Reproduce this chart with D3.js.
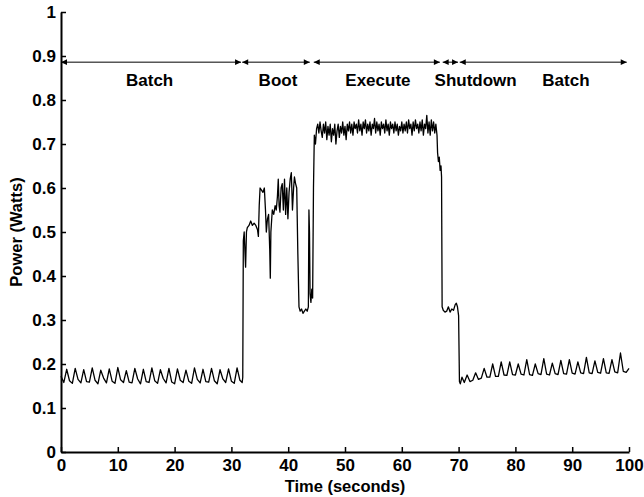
<!DOCTYPE html>
<html>
<head>
<meta charset="utf-8">
<script src="https://cdn.jsdelivr.net/npm/d3@7"></script>
<style>
  body { margin: 0; background: #fff; }
  text { font-family: "Liberation Sans", Arial, sans-serif; font-weight: bold; }
</style>
</head>
<body>
<script>
// power trace, [time (s), power (W)] per phase
var batchStart = [
  [0,0.172],[0.5,0.158],[1,0.188],[1.5,0.162],[2,0.156],[2.5,0.19],[3,0.165],[3.5,0.157],[4,0.187],
  [4.5,0.16],[5,0.159],[5.5,0.191],[6,0.163],[6.5,0.155],[7,0.186],[7.5,0.168],[8,0.157],[8.5,0.189],
  [9,0.161],[9.5,0.156],[10,0.192],[10.5,0.164],[11,0.158],[11.5,0.185],[12,0.159],[12.5,0.157],
  [13,0.19],[13.5,0.166],[14,0.155],[14.5,0.188],[15,0.16],[15.5,0.158],[16,0.191],[16.5,0.162],
  [17,0.156],[17.5,0.187],[18,0.167],[18.5,0.157],[19,0.19],[19.5,0.159],[20,0.155],[20.5,0.189],
  [21,0.163],[21.5,0.158],[22,0.186],[22.5,0.161],[23,0.156],[23.5,0.191],[24,0.165],[24.5,0.157],
  [25,0.188],[25.5,0.16],[26,0.159],[26.5,0.19],[27,0.162],[27.5,0.155],[28,0.187],[28.5,0.166],
  [29,0.158],[29.5,0.189],[30,0.161],[30.5,0.156],[31,0.191],[31.5,0.163],[31.9,0.158]
];
var boot = [
  [32.0,0.17],[32.1,0.48],[32.25,0.5],[32.4,0.45],[32.5,0.42],[32.65,0.5],[32.8,0.51],[33.1,0.515],
  [33.4,0.525],[33.7,0.515],[34.0,0.52],[34.3,0.515],[34.6,0.505],[34.75,0.49],[34.9,0.56],[35.05,0.6],
  [35.3,0.595],[35.55,0.59],[35.8,0.6],[36.0,0.55],[36.15,0.5],[36.35,0.53],[36.55,0.54],[36.75,0.46],
  [36.85,0.395],[36.95,0.5],[37.2,0.55],[37.45,0.54],[37.7,0.56],[37.9,0.55],[38.1,0.58],[38.25,0.62],
  [38.4,0.56],[38.55,0.545],[38.75,0.6],[38.95,0.61],[39.15,0.55],[39.35,0.62],[39.55,0.54],[39.75,0.6],
  [39.95,0.53],[40.15,0.59],[40.35,0.62],[40.55,0.635],[40.75,0.55],[40.95,0.6],[41.1,0.625],[41.3,0.61],
  [41.5,0.6],[41.7,0.45],[41.9,0.33],[42.1,0.32],[42.35,0.325],[42.6,0.315],[42.85,0.32],[43.1,0.325],
  [43.35,0.32],[43.55,0.33],[43.65,0.55],[43.75,0.5],[43.85,0.36],[44.0,0.34],[44.15,0.37],[44.3,0.35],
  [44.45,0.6],[44.6,0.72]
];
var execute = [
  [44.8,0.70],[45.0,0.735],[45.2,0.745],[45.4,0.725],[45.6,0.75],[45.8,0.73],[46.0,0.715],[46.2,0.745],
  [46.4,0.725],[46.6,0.75],[46.8,0.71],[47.0,0.74],[47.2,0.72],[47.4,0.745],[47.6,0.705],[47.8,0.735],
  [48.0,0.72],[48.2,0.745],[48.4,0.70],[48.6,0.73],[48.8,0.745],[49.0,0.715],[49.2,0.74],[49.4,0.725],
  [49.6,0.75],[49.8,0.72],[50.0,0.74],[50.2,0.71],[50.4,0.745],[50.6,0.73],[50.8,0.75],[51.0,0.725],
  [51.2,0.745],[51.4,0.72],[51.6,0.75],[51.8,0.735],[52.0,0.745],[52.2,0.725],[52.4,0.755],[52.6,0.73],
  [52.8,0.745],[53.0,0.72],[53.2,0.75],[53.4,0.735],[53.6,0.755],[53.8,0.725],[54.0,0.745],[54.2,0.73],
  [54.4,0.75],[54.6,0.72],[54.8,0.745],[55.0,0.735],[55.2,0.758],[55.4,0.725],[55.6,0.75],[55.8,0.73],
  [56.0,0.745],[56.2,0.72],[56.4,0.75],[56.6,0.735],[56.8,0.745],[57.0,0.725],[57.2,0.755],[57.4,0.73],
  [57.6,0.745],[57.8,0.72],[58.0,0.75],[58.2,0.735],[58.4,0.745],[58.6,0.725],[58.8,0.75],[59.0,0.73],
  [59.2,0.745],[59.4,0.72],[59.6,0.74],[59.8,0.73],[60.0,0.75],[60.2,0.725],[60.4,0.745],[60.6,0.73],
  [60.8,0.75],[61.0,0.725],[61.2,0.755],[61.4,0.735],[61.6,0.745],[61.8,0.72],[62.0,0.75],[62.2,0.73],
  [62.4,0.755],[62.6,0.735],[62.8,0.745],[63.0,0.725],[63.2,0.75],[63.4,0.73],[63.6,0.755],[63.8,0.72],
  [64.0,0.745],[64.2,0.735],[64.4,0.765],[64.6,0.725],[64.8,0.75],[65.0,0.72],[65.2,0.755],[65.4,0.73],
  [65.6,0.75],[65.8,0.725],[66.0,0.745],[66.2,0.72]
];
var shutdown = [
  [66.3,0.68],[66.45,0.66],[66.6,0.67],[66.75,0.64],[66.9,0.65],[67.0,0.625],[67.1,0.33],[67.3,0.322],
  [67.6,0.318],[67.9,0.32],[68.2,0.33],[68.5,0.318],[68.8,0.325],[69.1,0.322],[69.4,0.335],[69.6,0.338],
  [69.8,0.33],[70.0,0.31],[70.15,0.16]
];
var batchEnd = [
  [70.3,0.155],[70.6,0.17],[71,0.158],[71.5,0.175],[72,0.16],[72.5,0.163],[73,0.18],[73.5,0.165],
  [74,0.168],[74.5,0.19],[75,0.17],[75.5,0.17],[76,0.2],[76.5,0.172],[77,0.172],[77.5,0.205],
  [78,0.175],[78.5,0.174],[79,0.205],[79.5,0.176],[80,0.175],[80.5,0.2],[81,0.177],[81.5,0.175],
  [82,0.21],[82.5,0.176],[83,0.174],[83.5,0.2],[84,0.178],[84.5,0.176],[85,0.212],[85.5,0.177],
  [86,0.175],[86.5,0.202],[87,0.178],[87.5,0.176],[88,0.208],[88.5,0.178],[89,0.177],[89.5,0.21],
  [90,0.179],[90.5,0.177],[91,0.205],[91.5,0.18],[92,0.178],[92.5,0.215],[93,0.18],[93.5,0.178],
  [94,0.207],[94.5,0.181],[95,0.179],[95.5,0.212],[96,0.18],[96.5,0.179],[97,0.21],[97.5,0.182],
  [98,0.18],[98.5,0.225],[99,0.183],[99.5,0.181],[100,0.19]
];

// phase annotations
var phaseNames = ["Batch", "Boot", "Execute", "Shutdown", "Batch"];
var phaseFrom = [0, 31.9, 44.5, 67.2, 70.2];
var phaseTo = [31.7, 43.8, 66.7, 69.9, 99.6];
var phaseLabelAt = [15.6, 38.2, 55.8, 73.0, 88.9];
var phaseArrowY = 0.886;
var phaseLabelY = 0.832;

var xTicks = [0, 10, 20, 30, 40, 50, 60, 70, 80, 90, 100];
var yTicks = [0, 0.1, 0.2, 0.3, 0.4, 0.5, 0.6, 0.7, 0.8, 0.9, 1];

var trace = batchStart.concat(boot, execute, shutdown, batchEnd);

var width = 644, height = 497;
var margin = {top: 12, right: 15, bottom: 45, left: 61};

var svg = d3.select("body").append("svg")
  .attr("width", width)
  .attr("height", height);

var x = d3.scaleLinear().domain([0, 100]).range([margin.left, width - margin.right]);
var y = d3.scaleLinear().domain([0, 1]).range([height - margin.bottom, margin.top]);

// power line
var line = d3.line()
  .x(function(d) { return x(d[0]); })
  .y(function(d) { return y(d[1]); });

svg.append("path")
  .datum(trace)
  .attr("d", line)
  .attr("fill", "none")
  .attr("stroke", "#000")
  .attr("stroke-width", 1.3)
  .attr("stroke-linejoin", "round");

// axes, ticks point inward
var xAxis = svg.append("g")
  .attr("transform", "translate(0," + (height - margin.bottom) + ")")
  .call(d3.axisBottom(x).tickValues(xTicks).tickSizeInner(-5).tickSizeOuter(0).tickPadding(7)
    .tickFormat(d3.format("~g")));

var yAxis = svg.append("g")
  .attr("transform", "translate(" + margin.left + ",0)")
  .call(d3.axisLeft(y).tickValues(yTicks).tickSizeInner(-5).tickSizeOuter(0).tickPadding(5)
    .tickFormat(d3.format("~g")));

[xAxis, yAxis].forEach(function(g) {
  g.select(".domain").attr("stroke-width", 2);
  g.selectAll(".tick line").attr("stroke-width", 1.5);
  g.selectAll(".tick text")
    .attr("font-size", 17)
    .attr("font-family", "Liberation Sans, Arial, sans-serif")
    .attr("font-weight", "bold")
    .attr("fill", "#000");
});

// axis titles
svg.append("text")
  .attr("x", (x(0) + x(100)) / 2)
  .attr("y", 492)
  .attr("text-anchor", "middle")
  .attr("font-size", 16.5)
  .text("Time (seconds)");

svg.append("text")
  .attr("transform", "translate(22," + ((y(0) + y(1)) / 2) + ") rotate(-90)")
  .attr("text-anchor", "middle")
  .attr("font-size", 16.5)
  .text("Power (Watts)");

// phase arrows
function head(tipX, yy, dir) {
  var len = 6, half = 2.8;
  return "M" + tipX + "," + yy +
    "L" + (tipX - dir * len) + "," + (yy - half) +
    "L" + (tipX - dir * len) + "," + (yy + half) + "Z";
}

var ay = y(phaseArrowY);
phaseNames.forEach(function(name, i) {
  var x0 = x(phaseFrom[i]), x1 = x(phaseTo[i]);
  svg.append("line")
    .attr("x1", x0).attr("x2", x1)
    .attr("y1", ay).attr("y2", ay)
    .attr("stroke", "#000")
    .attr("stroke-width", 1);
  svg.append("path").attr("d", head(x0, ay, -1)).attr("fill", "#000");
  svg.append("path").attr("d", head(x1, ay, 1)).attr("fill", "#000");
  svg.append("text")
    .attr("x", x(phaseLabelAt[i]))
    .attr("y", y(phaseLabelY))
    .attr("text-anchor", "middle")
    .attr("font-size", 17)
    .text(name);
});
</script>
</body>
</html>
